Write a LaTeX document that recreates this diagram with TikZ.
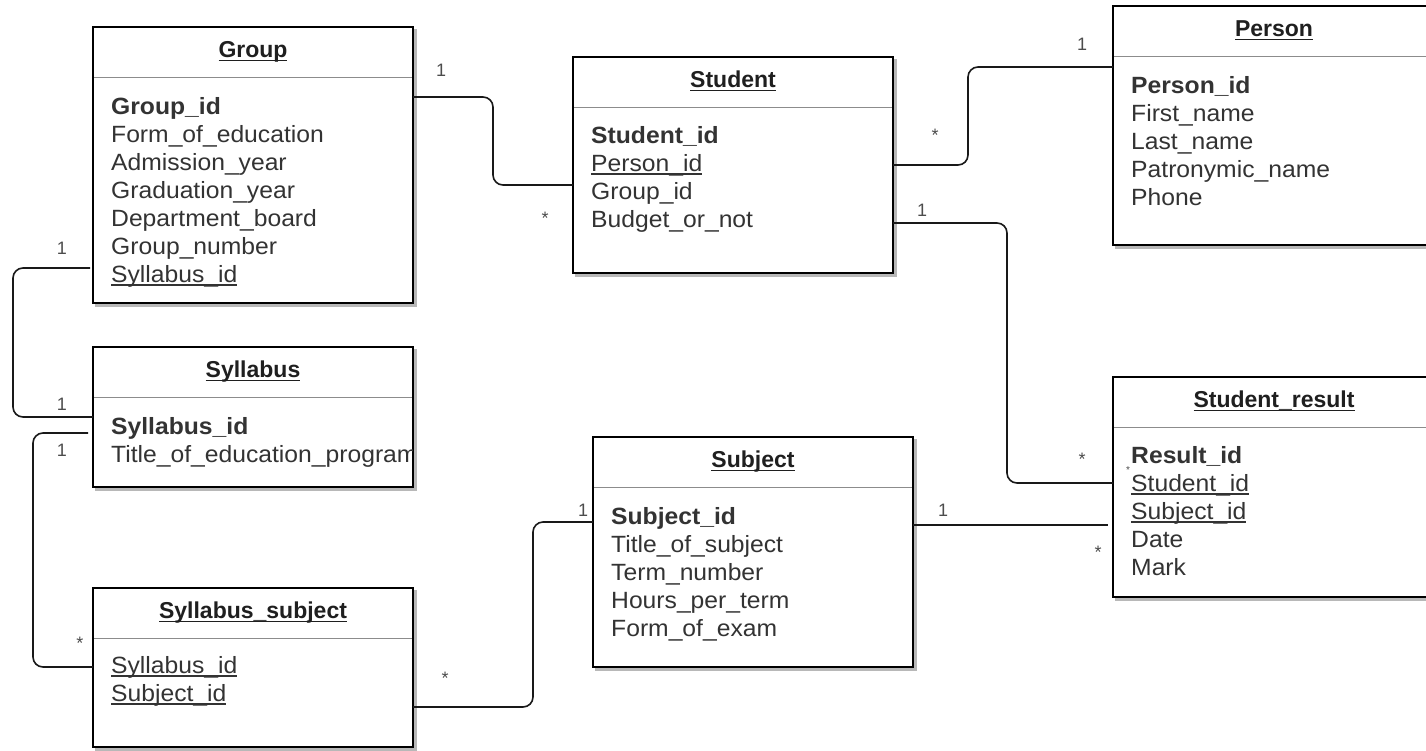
\documentclass[tikz,border=0pt]{standalone}
\usepackage{fontspec}
\setmainfont{Liberation Sans}
\newfontfamily\attrfont{Liberation Sans}[FakeStretch=1.05]
\newcommand{\myul}[1]{\setbox0\hbox{#1}\rlap{\rule[-3.5pt]{\wd0}{1.2pt}}\box0}
\begin{document}
\begin{tikzpicture}[x=1pt,y=-1pt,
  entity/.style={draw=black, line width=1.6pt, fill=white, anchor=north west, inner sep=0pt, outer sep=0pt,
    preaction={draw=black!28, fill=black!28, line width=1.6pt, transform canvas={shift={(3pt,-3pt)}}}},
  divider/.style={draw=black!45, line width=1pt},
  ttl/.style={anchor=base, font=\bfseries\fontsize{23}{28}\selectfont, text=black!88, inner sep=0pt},
  attr/.style={anchor=base west, font=\attrfont\fontsize{23.5}{28}\selectfont, text=black!80, inner sep=0pt},
  conn/.style={draw=black!90, line width=1.6pt, rounded corners=10pt},
  lbl/.style={font=\fontsize{18}{20}\selectfont, text=black!70, inner sep=0pt}]
\useasboundingbox (0,0) rectangle (1426,750);
\clip (0,0) rectangle (1426,750);

% ---------- boxes ----------
\node[entity, minimum width=320pt, minimum height=276pt] (group) at (93,27) {};
\node[entity, minimum width=320pt, minimum height=216pt] (student) at (573,57) {};
\node[entity, minimum width=322pt, minimum height=239pt] (person) at (1113,6) {};
\node[entity, minimum width=320pt, minimum height=140pt] (syllabus) at (93,347) {};
\node[entity, minimum width=320pt, minimum height=159pt] (sylsub) at (93,588) {};
\node[entity, minimum width=320pt, minimum height=230pt] (subject) at (593,437) {};
\node[entity, minimum width=322pt, minimum height=220pt] (result) at (1113,377) {};

% ---------- dividers ----------
\foreach \b in {group,student,person,syllabus,sylsub,subject,result}
  \draw[divider] ([yshift=-50pt,xshift=1pt]\b.north west) -- ([yshift=-50pt,xshift=-1pt]\b.north east);

% ---------- titles ----------
\node[ttl] (groupT) at ([yshift=-30.5pt]group.north) {\myul{Group}};
\node[ttl] (studentT) at ([yshift=-30.5pt]student.north) {\myul{Student}};
\node[ttl] (personT) at ([yshift=-30.5pt]person.north) {\myul{Person}};
\node[ttl] (syllabusT) at ([yshift=-30.5pt]syllabus.north) {\myul{Syllabus}};
\node[ttl] (sylsubT) at ([yshift=-30.5pt]sylsub.north) {\myul{Syllabus\_subject}};
\node[ttl] (subjectT) at ([yshift=-30.5pt]subject.north) {\myul{Subject}};
\node[ttl] (resultT) at ([yshift=-30.5pt]result.north) {\myul{Student\_result}};

% ---------- attributes ----------
\node[attr] (g1) at (111,114) {\textbf{Group\_id}};
\node[attr] (g2) at (111,142) {Form\_of\_education};
\node[attr] (g3) at (111,170) {Admission\_year};
\node[attr] (g4) at (111,198) {Graduation\_year};
\node[attr] (g5) at (111,226) {Department\_board};
\node[attr] (g6) at (111,254) {Group\_number};
\node[attr] (g7) at (111,282) {\myul{Syllabus\_id}};

\node[attr] (s1) at (591,143) {\textbf{Student\_id}};
\node[attr] (s2) at (591,171) {\myul{Person\_id}};
\node[attr] (s3) at (591,199) {Group\_id};
\node[attr] (s4) at (591,227) {Budget\_or\_not};

\node[attr] (p1) at (1131,93) {\textbf{Person\_id}};
\node[attr] (p2) at (1131,121) {First\_name};
\node[attr] (p3) at (1131,149) {Last\_name};
\node[attr] (p4) at (1131,177) {Patronymic\_name};
\node[attr] (p5) at (1131,205) {Phone};

\begin{scope}
\clip (94,348) rectangle (412,486);
\node[attr] (y1) at (111,434) {\textbf{Syllabus\_id}};
\node[attr] (y2) at (111,462) {Title\_of\_education\_program};
\end{scope}

\node[attr] (ss1) at (111,673) {\myul{Syllabus\_id}};
\node[attr] (ss2) at (111,701) {\myul{Subject\_id}};

\node[attr] (u1) at (611,524) {\textbf{Subject\_id}};
\node[attr] (u2) at (611,552) {Title\_of\_subject};
\node[attr] (u3) at (611,580) {Term\_number};
\node[attr] (u4) at (611,608) {Hours\_per\_term};
\node[attr] (u5) at (611,636) {Form\_of\_exam};

\node[attr] (r1) at (1131,463) {\textbf{Result\_id}};
\node[attr] (r2) at (1131,491) {\myul{Student\_id}};
\node[attr] (r3) at (1131,519) {\myul{Subject\_id}};
\node[attr] (r4) at (1131,547) {Date};
\node[attr] (r5) at (1131,575) {Mark};

% ---------- connectors ----------
\draw[conn] ([yshift=-70pt]group.north east) -- ++(80,0) |- ([yshift=-128pt]student.north west);
\draw[conn] ([yshift=-108pt]student.north east) -- ++(75,0) |- ([yshift=-61pt]person.north west);
\draw[conn] ([yshift=-166pt]student.north east) -- ++(114,0) |- ([yshift=-106pt]result.north west);
\draw[conn] ([yshift=-88pt]subject.north east) -- ([yshift=-148pt,xshift=-5pt]result.north west);
\draw[conn] ([yshift=-241pt,xshift=-3pt]group.north west) -- ++(-77,0) |- ([yshift=-70pt]syllabus.north west);
\draw[conn] ([yshift=-86pt,xshift=-5pt]syllabus.north west) -- ++(-55,0) |- ([yshift=-79pt]sylsub.north west);
\draw[conn] ([yshift=-119pt]sylsub.north east) -- ++(120,0) |- ([yshift=-85pt]subject.north west);

% ---------- multiplicities ----------
\node[lbl] (m1) at (441,70) {1};
\node[lbl] (m2) at (545,218) {*};
\node[lbl] (m3) at (935,135) {*};
\node[lbl] (m4) at (1082,44) {1};
\node[lbl] (m5) at (922,210) {1};
\node[lbl] (m6) at (1082,459) {*};
\node[lbl, font=\fontsize{10}{12}\selectfont] (m7) at (1128,470) {*};
\node[lbl] (m8) at (943,510) {1};
\node[lbl] (m9) at (1098,552) {*};
\node[lbl] (m10) at (62,248) {1};
\node[lbl] (m11) at (62,404) {1};
\node[lbl] (m12) at (62,450) {1};
\node[lbl] (m13) at (80,643) {*};
\node[lbl] (m14) at (445,678) {*};
\node[lbl] (m15) at (583,510) {1};
\end{tikzpicture}
\end{document}
